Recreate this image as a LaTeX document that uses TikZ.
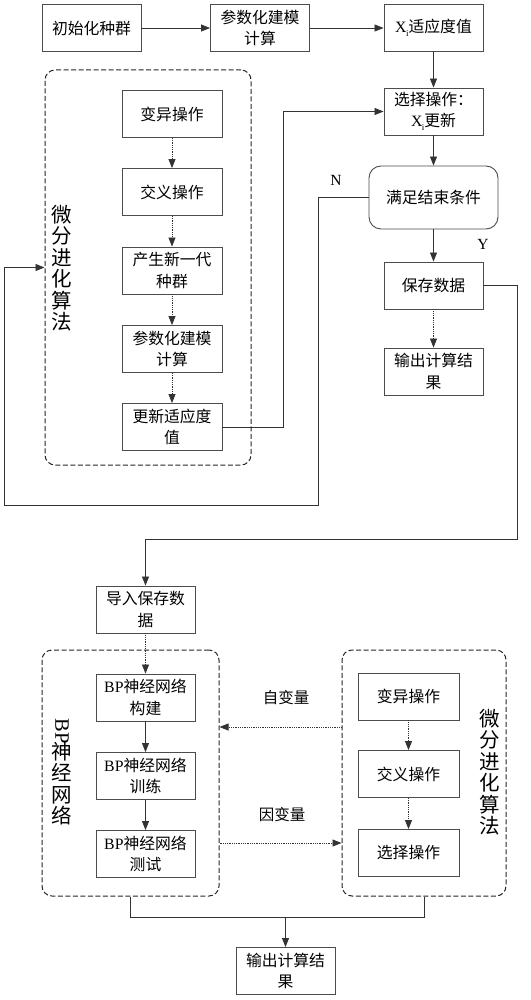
\documentclass[tikz,border=0pt]{standalone}
\usepackage{fontspec}
\setmainfont{Noto Sans CJK SC}
\newfontfamily\lat{Liberation Serif}
\usetikzlibrary{arrows.meta}
\newcommand{\xsub}{{\lat X\kern-0.5pt\raisebox{-0.25em}{\fontsize{9}{9}\selectfont i}}}
\begin{document}
\begin{tikzpicture}[x=1pt,y=-1pt,
  box/.style={draw=black!70, line width=0.9pt, minimum width=99pt, minimum height=47pt, inner sep=0pt, align=center, font=\fontsize{15.8}{21.5}\selectfont},
  dbox/.style={draw=black!85, dash pattern=on 5pt off 2.5pt, line width=1pt, rounded corners=10pt, inner sep=0pt},
  arr/.style={-{Triangle[length=9pt,width=7pt]}, line width=0.8pt, draw=black!80},
  darr/.style={arr, densely dotted},
  ln/.style={line width=0.8pt, draw=black!80},
  vlab/.style={align=center, font=\fontsize{20.5}{21.5}\selectfont, inner sep=0pt},
  lab/.style={font=\fontsize{15.5}{18}\selectfont, inner sep=0pt}]
\useasboundingbox[fill=white] (0,0) rectangle (530,1000);

% top row
\node[box] (init) at (91.5,28) {初始化种群};
\node[box] (par1) at (260,28) {参数化建模\\计算};
\node[box] (fit1) at (433.5,28) {\xsub 适应度值};

% right column
\node[box] (sel) at (433.5,111.5) {选择操作：\\\xsub 更新};
\node[box, minimum width=129pt, minimum height=63pt, rounded corners=12pt] (cond) at (433.5,197.5) {满足结束条件};
\node[box] (save) at (433.5,285.5) {保存数据};
\node[box] (out1) at (433.5,371.5) {输出计算结\\果};

% top-left DE box
\node[dbox, minimum width=206pt, minimum height=395pt] (de1) at (148,267.5) {};
\node[box, minimum width=100pt] (mut1) at (172,114) {变异操作};
\node[box, minimum width=100pt] (crs1) at (172,192) {交义操作};
\node[box, minimum width=100pt] (npop) at (172,270.5) {产生新一代\\种群};
\node[box, minimum width=100pt] (par2) at (172,349) {参数化建模\\计算};
\node[box, minimum width=100pt] (upd) at (172,427) {更新适应度\\值};
\node[vlab] (delab1) at (62,268) {微\\分\\进\\化\\算\\法};

% arrows top
\draw[arr] (init) -- (par1);
\draw[arr] (par1) -- (fit1);
\draw[arr] (fit1) -- (sel);
\draw[arr] (sel) -- (cond);
\draw[arr] (cond) -- (save);
\draw[darr] (save) -- (out1);
\draw[darr] (mut1) -- (crs1);
\draw[darr] (crs1) -- (npop);
\draw[darr] (npop) -- (par2);
\draw[darr] (par2) -- (upd);

% feedback loops
\coordinate (c1) at (283,0);
\draw[arr] (upd.east) -| (c1 |- sel.west) -- (sel.west);
\coordinate (c2) at (318,505);
\coordinate (c3) at (4,505);
\draw[arr] (cond.west) -| (c2) -- (c3) |- (de1.west);
\node[lab, font=\lat\fontsize{15.5}{18}\selectfont] (nlab) at (336,180) {N};
\node[lab, font=\lat\fontsize{15.5}{18}\selectfont] (ylab) at (483,244) {Y};

% lower part
\node[box] (imp) at (145.5,609.5) {导入保存数\\据};
\coordinate (c4) at (517,539);
\draw[arr] (save.east) -| (c4) -| (imp.north);

\node[dbox, minimum width=177pt, minimum height=246pt] (bpbox) at (130.5,773) {};
\node[box] (bp1) at (145.5,697.5) {{\lat BP}神经网络\\构建};
\node[box] (bp2) at (145.5,776) {{\lat BP}神经网络\\训练};
\node[box] (bp3) at (145.5,854) {{\lat BP}神经网络\\测试};
\node[vlab] (bplab) at (62,772) {\rotatebox{-90}{\lat BP}\\[-3pt]神\\经\\网\\络};

\node[dbox, minimum width=164pt, minimum height=246pt] (de2) at (424,773) {};
\node[box, minimum width=101pt] (mut2) at (408.5,696.5) {变异操作};
\node[box, minimum width=101pt] (crs2) at (408.5,774) {交义操作};
\node[box, minimum width=101pt] (sel2) at (408.5,853) {选择操作};
\node[vlab] (delab2) at (490,772) {微\\分\\进\\化\\算\\法};

\draw[darr] (imp) -- (bp1);
\draw[arr] (bp1) -- (bp2);
\draw[arr] (bp2) -- (bp3);
\draw[darr] (mut2) -- (crs2);
\draw[darr] (crs2) -- (sel2);

\coordinate (y1) at (0,727);
\coordinate (y2) at (0,843);
\draw[darr] (de2.west |- y1) -- (bpbox.east |- y1);
\draw[darr] (bpbox.east |- y2) -- (de2.west |- y2);
\node[lab] (zbl) at (286,698) {自变量};
\node[lab] (ybl) at (282,815) {因变量};

\node[box] (out2) at (285.5,971) {输出计算结\\果};
\coordinate (m) at (0,917);
\draw[ln] (bpbox.south) -- (bpbox.south |- m) -- (de2.south |- m) -- (de2.south);
\draw[arr] (out2.north |- m) -- (out2.north);
\end{tikzpicture}
\end{document}
